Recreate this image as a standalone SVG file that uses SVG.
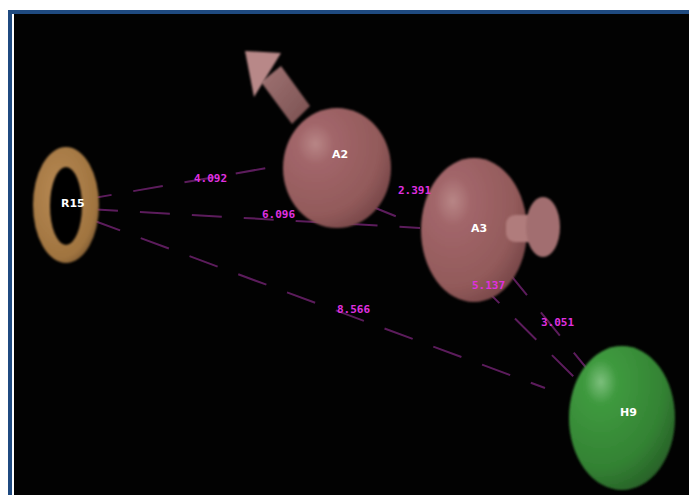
<svg xmlns="http://www.w3.org/2000/svg" width="689" height="495" viewBox="0 0 689 495">
  <defs>
    <radialGradient id="gradPink" cx="0.3" cy="0.3" r="0.85">
      <stop offset="0" stop-color="#b88686"/>
      <stop offset="0.2" stop-color="#a2666a"/>
      <stop offset="0.7" stop-color="#925a5a"/>
      <stop offset="1" stop-color="#6e4042"/>
    </radialGradient>
    <radialGradient id="gradGreen" cx="0.3" cy="0.25" r="0.85">
      <stop offset="0" stop-color="#7cbf7c"/>
      <stop offset="0.18" stop-color="#3f9a3f"/>
      <stop offset="0.7" stop-color="#338233"/>
      <stop offset="1" stop-color="#265c26"/>
    </radialGradient>
    <radialGradient id="gradRing" cx="0.4" cy="0.4" r="0.7">
      <stop offset="0" stop-color="#b88a55"/>
      <stop offset="0.8" stop-color="#a0743f"/>
      <stop offset="1" stop-color="#70502e"/>
    </radialGradient>
    <linearGradient id="gradShaft" x1="0" y1="0" x2="1" y2="1">
      <stop offset="0" stop-color="#a07474"/>
      <stop offset="1" stop-color="#7a5050"/>
    </linearGradient>
    <filter id="soft" x="-10%" y="-10%" width="120%" height="120%">
      <feGaussianBlur stdDeviation="1"/>
    </filter>
  </defs>
  <style>
    .link { stroke: #9a2e9a; stroke-width: 2; stroke-dasharray: 30 22; fill: none; opacity: 0.6; }
    .dist { font-family: "DejaVu Sans Mono", "Liberation Mono", monospace; font-size: 11px; font-weight: bold; fill: #e030e0; }
    .name { font-family: "DejaVu Sans", "Liberation Sans", sans-serif; font-size: 11px; font-weight: bold; fill: #ffffff; }
  </style>

  <!-- frame -->
  <rect x="0" y="0" width="689" height="495" fill="#ffffff"/>
  <rect x="8" y="10" width="681" height="485" fill="#1f4a80"/>
  <rect x="12" y="14" width="677" height="481" fill="#ffffff"/>
  <rect x="14" y="14" width="675" height="481" fill="#020202"/>

  <!-- distance connectors -->
  <g id="connectors">
    <line class="link" x1="82" y1="200" x2="290" y2="164"/>
    <line class="link" x1="88" y1="209" x2="420" y2="228"/>
    <line class="link" x1="92" y1="220" x2="545" y2="388"/>
    <line class="link" x1="368" y1="205" x2="410" y2="222"/>
    <line class="link" x1="478" y1="282" x2="575" y2="378"/>
    <line class="link" x1="508" y1="272" x2="588" y2="370"/>
  </g>

  <!-- ring R15 -->
  <g id="R15">
    <ellipse cx="66" cy="205" rx="33" ry="58" fill="url(#gradRing)" filter="url(#soft)"/>
    <ellipse cx="66" cy="206" rx="16" ry="39" fill="#020202" filter="url(#soft)"/>
    <text class="name" x="61" y="207">R15</text>
  </g>

  <!-- A2 with its vector arrow -->
  <g id="A2">
    <polygon points="261,82 281,66 310,106 292,124" fill="url(#gradShaft)" filter="url(#soft)"/>
    <polygon points="245,51 281,53 254,97" fill="#b88888" filter="url(#soft)"/>
    <ellipse cx="337" cy="168" rx="54" ry="60" fill="url(#gradPink)" filter="url(#soft)"/>
    <text class="name" x="332" y="158">A2</text>
  </g>

  <!-- A3 with its side lobe -->
  <g id="A3">
    <ellipse cx="474" cy="230" rx="53" ry="72" fill="url(#gradPink)" filter="url(#soft)"/>
    <rect x="506" y="215" width="32" height="27" rx="9" fill="#b07c7c" filter="url(#soft)"/>
    <ellipse cx="543" cy="227" rx="17" ry="30" fill="#a26e70" filter="url(#soft)"/>
    <text class="name" x="471" y="232">A3</text>
  </g>

  <!-- H9 -->
  <g id="H9">
    <ellipse cx="622" cy="418" rx="53" ry="72" fill="url(#gradGreen)" filter="url(#soft)"/>
    <text class="name" x="620" y="416">H9</text>
  </g>

  <!-- distance labels, drawn over the bodies -->
  <g id="distances">
    <text class="dist" x="194" y="182">4.092</text>
    <text class="dist" x="262" y="218">6.096</text>
    <text class="dist" x="337" y="313">8.566</text>
    <text class="dist" x="398" y="194">2.391</text>
    <text class="dist" x="472" y="289">5.137</text>
    <text class="dist" x="541" y="326">3.051</text>
  </g>
</svg>
